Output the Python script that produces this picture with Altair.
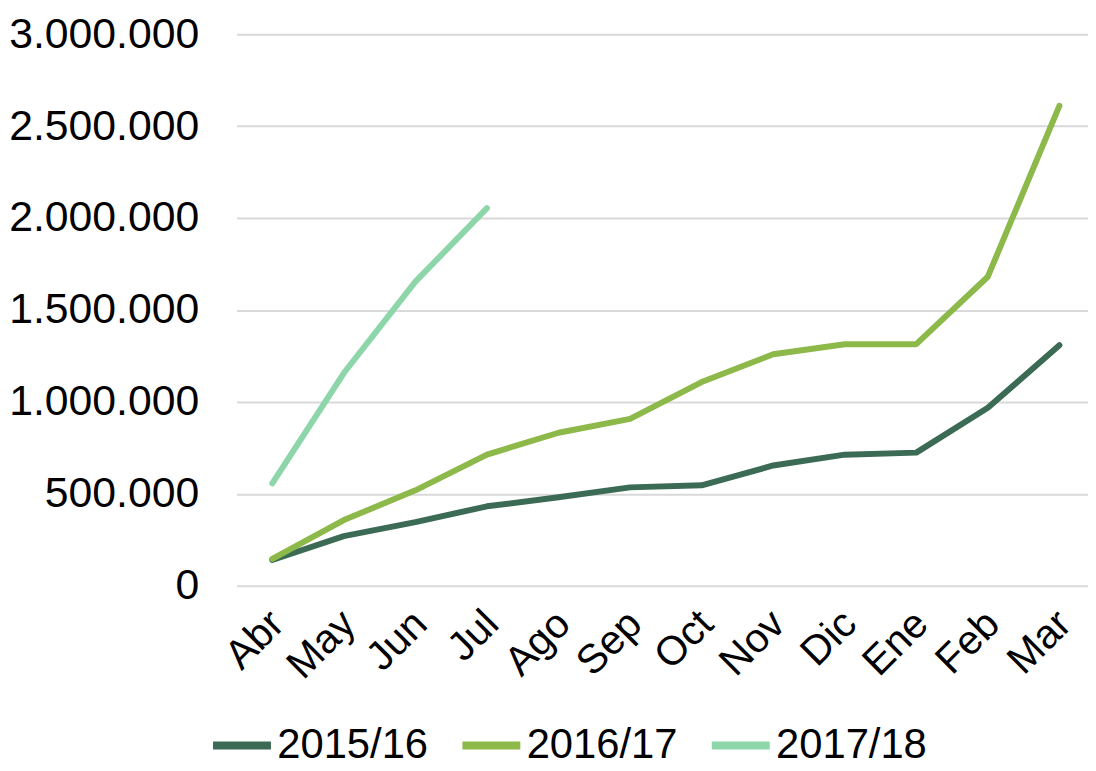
import altair as alt
import pandas as pd

months = ["Abr", "May", "Jun", "Jul", "Ago", "Sep", "Oct", "Nov", "Dic", "Ene", "Feb", "Mar"]
s1516 = [140000, 270000, 346000, 432000, 481000, 535000, 546000, 654000, 713000, 724000, 968000, 1308000]
s1617 = [146000, 357000, 519000, 713000, 832000, 908000, 1108000, 1259000, 1314000, 1314000, 1681000, 2611000]
s1718 = [557000, 1157000, 1654000, 2054000]

series = ["2015/16", "2016/17", "2017/18"]
colors = ["#3b6a55", "#8db84a", "#8dd6aa"]

rows = []
for name, vals in zip(series, [s1516, s1617, s1718]):
    for i, v in enumerate(vals):
        rows.append({"Mes": months[i], "Valor": v, "Temporada": name, "orden": i})
df = pd.DataFrame(rows)

FONT = "Liberation Sans"
month_arr = "[" + ",".join("'" + m + "'" for m in months) + "]"

chart = alt.Chart(df).mark_line(strokeWidth=6, strokeCap="round", strokeJoin="round").encode(
    x=alt.X("orden:Q", scale=alt.Scale(domain=[-0.5, 11.4], nice=False, zero=False),
            axis=alt.Axis(title=None, values=list(range(len(months))),
                          labelExpr=month_arr + "[datum.value]",
                          labelAngle=-45, labelAlign="right", labelBaseline="middle",
                          labelFontSize=41, labelFont=FONT, labelColor="#000000", labelLimit=0,
                          labelFlush=False, labelOverlap=False,
                          domain=False, ticks=False, labelPadding=32, labelOffset=5, grid=False)),
    y=alt.Y("Valor:Q", scale=alt.Scale(domain=[0, 3000000]),
            axis=alt.Axis(title=None, values=[0, 500000, 1000000, 1500000, 2000000, 2500000, 3000000],
                          labelExpr="replace(format(datum.value, ',d'), /,/g, '.')",
                          labelFontSize=43, labelFont=FONT, labelColor="#000000", labelLimit=0,
                          domain=False, ticks=False, labelPadding=38,
                          gridColor="#d9d9d9", gridWidth=2)),
    color=alt.Color("Temporada:N", scale=alt.Scale(domain=series, range=colors),
                    legend=alt.Legend(title=None, orient="none", direction="horizontal",
                                      legendX=-28, legendY=682,
                                      symbolType="stroke", symbolSize=3400, symbolStrokeWidth=8,
                                      labelFontSize=42, labelFont=FONT, labelColor="#000000", labelLimit=0,
                                      columnPadding=18, labelOffset=2)),
    order="orden:Q",
).properties(
    width=857, height=555,
    autosize=alt.AutoSizeParams(type="none"),
    padding={"top": 24, "left": 230, "right": 0, "bottom": 176},
).configure_view(stroke=None)

chart.save("out.html", embed_options={"renderer": "svg", "actions": False})
